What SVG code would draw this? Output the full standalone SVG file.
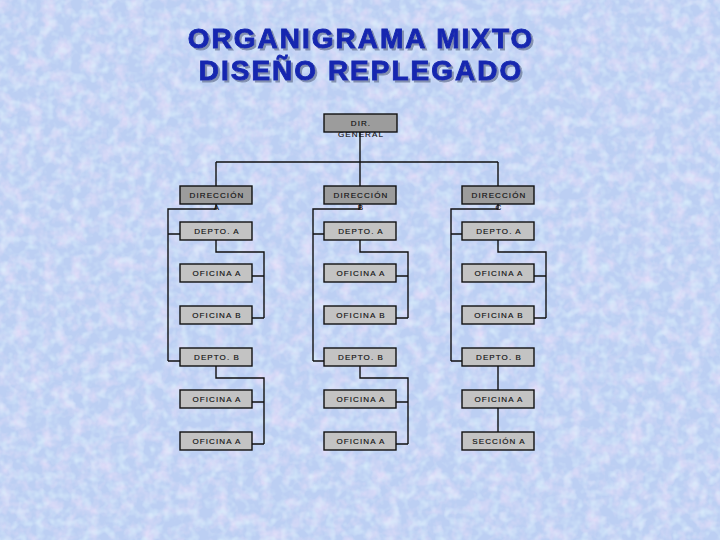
<svg xmlns="http://www.w3.org/2000/svg" width="720" height="540" viewBox="0 0 720 540">
<defs>
<filter id="tex" x="0" y="0" width="100%" height="100%" filterUnits="userSpaceOnUse">
<feTurbulence type="fractalNoise" baseFrequency="0.07" numOctaves="3" seed="4" result="n"/>
<feColorMatrix in="n" type="matrix" values="0 0 0 0 0.86  0 0 0 0 0.76  0 0 0 0 0.96  1.6 0 0 0 -0.68"/>
</filter>
<filter id="tex2" x="0" y="0" width="100%" height="100%" filterUnits="userSpaceOnUse">
<feTurbulence type="fractalNoise" baseFrequency="0.11" numOctaves="2" seed="9" result="n"/>
<feColorMatrix in="n" type="matrix" values="0 0 0 0 0.72  0 0 0 0 0.88  0 0 0 0 0.98  0 1.6 0 0 -0.7"/>
</filter>
<filter id="sh" x="-5%" y="-20%" width="110%" height="150%">
<feDropShadow dx="2" dy="2" stdDeviation="0.6" flood-color="#6a7898" flood-opacity="0.75"/>
</filter>
<style>
.bx{stroke:#111;stroke-width:1.4}
.dk{fill:#9c9c9c}
.lt{fill:#c3c3c3}
.t{font-family:"Liberation Sans",Arial,sans-serif;font-size:8px;letter-spacing:1.1px;fill:#111;stroke:#111;stroke-width:0.15;text-anchor:middle}
.ln{fill:none;stroke:#111;stroke-width:1.4}
.ttl{font-family:"Liberation Sans",Arial,sans-serif;font-weight:bold;font-size:28px;letter-spacing:2px;text-anchor:middle;fill:#1428b0;stroke:#1428b0;stroke-width:0.9}
</style>
</defs>
<rect width="720" height="540" fill="#bccff3"/>
<rect width="720" height="540" filter="url(#tex)"/>
<rect width="720" height="540" filter="url(#tex2)"/>
<g id="title" filter="url(#sh)">
<text class="ttl" x="361" y="48">ORGANIGRAMA MIXTO</text>
<text class="ttl" x="361" y="80">DISEÑO REPLEGADO</text>
</g>
<g id="connectors" class="ln">
<path d="M360 132V186M216 162H498M216 162V186M498 162V186"/>
<path d="M216 204V209H168V361M168 234H180M168 361H180"/>
<path d="M360 204V209H313V361M313 234H324M313 361H324"/>
<path d="M498 204V209H451V361M451 234H462M451 361H462"/>
<path d="M216 240V252H264V318M252 276H264M252 318H264"/>
<path d="M360 240V252H408V318M396 276H408M396 318H408"/>
<path d="M498 240V252H546V318M534 276H546M534 318H546"/>
<path d="M216 366V378H264V444M252 402H264M252 444H264"/>
<path d="M360 366V378H408V444M396 402H408M396 444H408"/>
<path d="M498 366V390M498 408V432"/>
</g>
<g id="dir-general"><rect class="bx dk" x="324" y="114" width="73" height="18"/><text class="t" x="361" y="126">DIR.</text><text class="t" x="361" y="137">GENERAL</text></g>
<g id="direccion-a"><rect class="bx dk" x="180" y="186" width="72" height="18"/><text class="t" x="217" y="198">DIRECCIÓN</text><text class="t" x="217" y="210">A</text></g>
<g id="direccion-b"><rect class="bx dk" x="324" y="186" width="72" height="18"/><text class="t" x="361" y="198">DIRECCIÓN</text><text class="t" x="361" y="210">B</text></g>
<g id="direccion-c"><rect class="bx dk" x="462" y="186" width="72" height="18"/><text class="t" x="499" y="198">DIRECCIÓN</text><text class="t" x="499" y="210">C</text></g>
<g id="a-depto-a"><rect class="bx lt" x="180" y="222" width="72" height="18"/><text class="t" x="217" y="234">DEPTO. A</text></g>
<g id="a-oficina-a"><rect class="bx lt" x="180" y="264" width="72" height="18"/><text class="t" x="217" y="276">OFICINA A</text></g>
<g id="a-oficina-b"><rect class="bx lt" x="180" y="306" width="72" height="18"/><text class="t" x="217" y="318">OFICINA B</text></g>
<g id="a-depto-b"><rect class="bx lt" x="180" y="348" width="72" height="18"/><text class="t" x="217" y="360">DEPTO. B</text></g>
<g id="a-oficina-a2"><rect class="bx lt" x="180" y="390" width="72" height="18"/><text class="t" x="217" y="402">OFICINA A</text></g>
<g id="a-oficina-a3"><rect class="bx lt" x="180" y="432" width="72" height="18"/><text class="t" x="217" y="444">OFICINA A</text></g>
<g id="b-depto-a"><rect class="bx lt" x="324" y="222" width="72" height="18"/><text class="t" x="361" y="234">DEPTO. A</text></g>
<g id="b-oficina-a"><rect class="bx lt" x="324" y="264" width="72" height="18"/><text class="t" x="361" y="276">OFICINA  A</text></g>
<g id="b-oficina-b"><rect class="bx lt" x="324" y="306" width="72" height="18"/><text class="t" x="361" y="318">OFICINA B</text></g>
<g id="b-depto-b"><rect class="bx lt" x="324" y="348" width="72" height="18"/><text class="t" x="361" y="360">DEPTO. B</text></g>
<g id="b-oficina-a2"><rect class="bx lt" x="324" y="390" width="72" height="18"/><text class="t" x="361" y="402">OFICINA A</text></g>
<g id="b-oficina-a3"><rect class="bx lt" x="324" y="432" width="72" height="18"/><text class="t" x="361" y="444">OFICINA A</text></g>
<g id="c-depto-a"><rect class="bx lt" x="462" y="222" width="72" height="18"/><text class="t" x="499" y="234">DEPTO. A</text></g>
<g id="c-oficina-a"><rect class="bx lt" x="462" y="264" width="72" height="18"/><text class="t" x="499" y="276">OFICINA  A</text></g>
<g id="c-oficina-b"><rect class="bx lt" x="462" y="306" width="72" height="18"/><text class="t" x="499" y="318">OFICINA B</text></g>
<g id="c-depto-b"><rect class="bx lt" x="462" y="348" width="72" height="18"/><text class="t" x="499" y="360">DEPTO. B</text></g>
<g id="c-oficina-a2"><rect class="bx lt" x="462" y="390" width="72" height="18"/><text class="t" x="499" y="402">OFICINA A</text></g>
<g id="c-seccion-a"><rect class="bx lt" x="462" y="432" width="72" height="18"/><text class="t" x="499" y="444">SECCIÓN A</text></g>
</svg>
